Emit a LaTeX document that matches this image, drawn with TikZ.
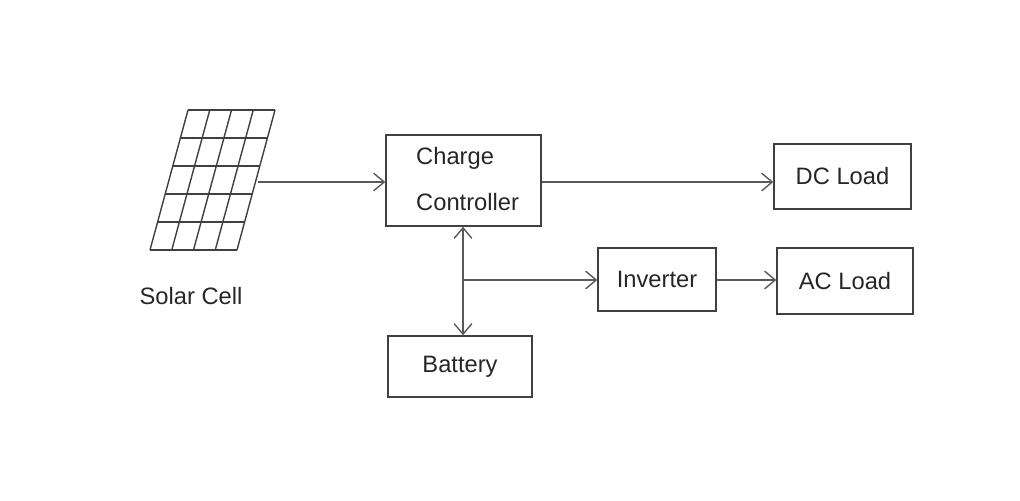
\documentclass[tikz,border=0pt]{standalone}
\usepackage{fontspec}
\setmainfont{Liberation Sans}
\usetikzlibrary{arrows.meta}
\begin{document}
\begin{tikzpicture}[x=0.02cm,y=-0.02cm,
    block/.style={draw=black!75, thick, rectangle},
    lbl/.style={font=\fontsize{13.5}{16}\selectfont, text=black!85},
    wire/.style={draw=black!65, thick, -{Straight Barb[length=6pt,width=10pt]}}]
  \useasboundingbox (0,0) rectangle (1020,500);
  % solar panel
  \foreach \i in {0,...,4}
    \draw[black!75, thick] ({188-38*\i/5*0+(-38)*\i/5},{110+140*\i/5}) -- ++(87,0);
  \draw[black!75, thick] (150,250) -- ++(87,0);
  \foreach \j in {0,...,4}
    \draw[black!75, thick] ({188+87*\j/4},110) -- ({150+87*\j/4},250);
  \coordinate (panel) at (258,182);
  \node[lbl] (solar) at (191,296) {Solar Cell};
  % blocks
  \node[block, minimum width=155\pgflinewidth] (cc) at (463.5,180.5) [minimum width=3.1cm, minimum height=1.82cm] {};
  \node[lbl, anchor=west] (cc1) at (410,158) {Charge};
  \node[lbl, anchor=west] (cc2) at (410,202) {Controller};
  \node[block, lbl, minimum width=2.74cm, minimum height=1.3cm] (dc) at (842.5,176.5) {DC Load};
  \node[block, lbl, minimum width=2.36cm, minimum height=1.26cm] (inv) at (657,279.5) {Inverter};
  \node[block, lbl, minimum width=2.72cm, minimum height=1.32cm] (ac) at (845,281) {AC Load};
  \node[block, lbl, minimum width=2.88cm, minimum height=1.22cm] (bat) at (460,366.5) {Battery};
  \coordinate (tap) at (463,280);
  % connectors
  \draw[wire] (panel) -- (panel -| cc.west);
  \draw[wire] (cc.east |- 0,182) -- (dc.west |- 0,182);
  \draw[wire, {Straight Barb[length=6pt,width=10pt]}-{Straight Barb[length=6pt,width=10pt]}] (tap |- cc.south) -- (tap |- bat.north);
  \draw[wire] (tap) -- (inv.west |- tap);
  \draw[wire] (inv.east |- tap) -- (ac.west |- tap);
\end{tikzpicture}
\end{document}
